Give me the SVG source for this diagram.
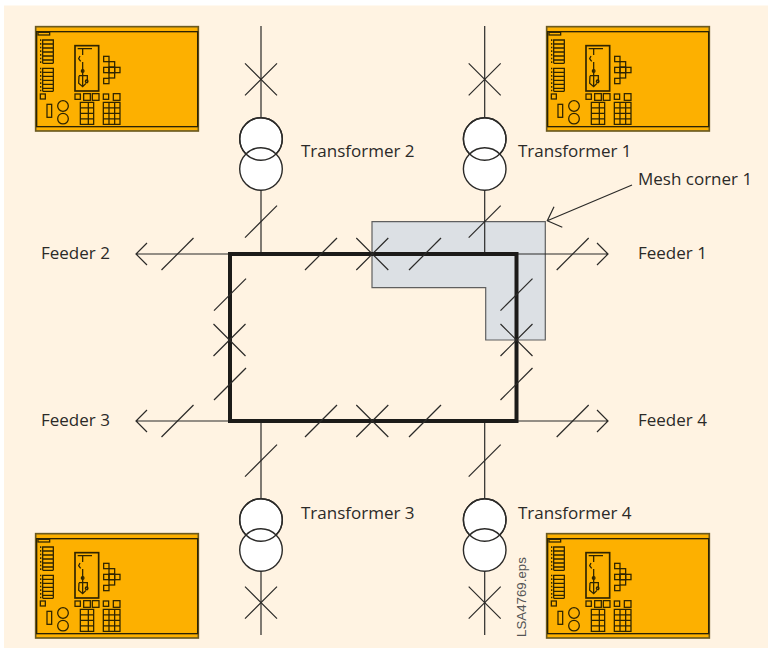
<svg xmlns="http://www.w3.org/2000/svg" xmlns:xlink="http://www.w3.org/1999/xlink" width="768" height="648" viewBox="0 0 768 648">
<style>
.l{fill:none;stroke:#2b2a28;stroke-width:1.2}
.t{font-family:"Open Sans","Noto Sans",sans-serif;font-size:17px;fill:#2b2a28}
.c1{fill:#fff;stroke:#2b2a28;stroke-width:1.4}
.c2{fill:none;stroke:#2b2a28;stroke-width:1.4}
.p{fill:none;stroke:#2e2400;stroke-width:3.800}
</style>
<defs>
<g id="sl"><path class="l" d="M-16 16L16-16"/></g>
<g id="x"><path class="l" d="M-16 16L16-16M-16-16L16 16"/></g>
<g id="panel" transform="translate(30 20) scale(.3333)">
<rect x="17" y="20" width="488" height="313" fill="#fdb000" stroke="#6b5a20" stroke-width="5"/>
<rect x="20" y="35" width="483" height="285" fill="#fdb000" stroke="#2a2205" stroke-width="4"/>
<rect class="p" x="24" y="37" width="35" height="8"/>
<path class="p" d="M38 60H70M38 72H70M38 84H70M38 96H70M38 108H70M38 120H70M38 130H70M70 58V130M38 58V130M38 145H70M38 157H70M38 169H70M38 181H70M38 193H70M38 205H70M38 214H70M70 143V214M38 143V214"/>
<path class="p" stroke-dasharray="5 6" d="M32 58V130M32 143V214"/>
<rect x="135" y="77" width="71" height="136" fill="none" stroke="#2e2400" stroke-width="5"/>
<path class="p" d="M143 86H186M158 86V105M150 108L146 116L152 124M158 126V150M158 150V165M147 167H172V190M147 167L146 190L158 200L168 190M158 165V198"/>
<circle class="p" cx="158" cy="153" r="4"/>
<circle class="p" cx="170" cy="184" r="4"/>
<rect class="p" x="221" y="109" width="16" height="16"/><rect class="p" x="237" y="125" width="17" height="16"/><rect class="p" x="221" y="142" width="16" height="16"/><rect class="p" x="237" y="142" width="17" height="16"/><rect class="p" x="254" y="142" width="16" height="16"/><rect class="p" x="237" y="158" width="17" height="16"/><rect class="p" x="221" y="175" width="16" height="16"/>
<rect class="p" x="31" y="222" width="15" height="15"/><rect class="p" x="135" y="222" width="16" height="16"/><rect class="p" x="161" y="221" width="20" height="20"/><rect class="p" x="187" y="221" width="20" height="20"/><rect class="p" x="220" y="222" width="16" height="16"/><rect class="p" x="250" y="221" width="20" height="20"/>
<rect class="p" x="51" y="253" width="14" height="39"/>
<circle class="p" cx="99" cy="258" r="16"/><circle class="p" cx="99" cy="296" r="16"/>
<path class="p" d="M151 247H191V313H151ZM151 264H191M151 280H191M151 297H191M175 247V313M220 247H270V313H220ZM220 264H270M220 280H270M220 297H270M237 247V313M254 247V313"/>
</g>
</defs>
<rect x="0" y="0" width="768" height="648" fill="#fff"/>
<rect id="background" x="4" y="5.500" width="764" height="642.500" fill="#fff3e2"/>
<path id="mesh-corner-area" d="M372 221.700H545.300V340H485.700V287.700H372Z" fill="#dce0e4" stroke="#5f5f5f" stroke-width="1.200"/>
<g id="connectors">
<path class="l" d="M261 26V118M261 190V254M484.700 26V118M484.700 190V254M261 421V499M261 571V635M484.700 421V499M484.700 571V635"/>
<path class="l" d="M136 254H230M147 243L136 254L147 265M516 254H608M597 243L608 254L597 265M136 421H230M147 410L136 421L147 432M516 421H608M597 410L608 421L597 432"/>
<path class="l" d="M632 185L547.300 220.700M554 206.700L547.300 220.700L562.300 227.300"/>
<rect x="230" y="254" width="286.500" height="167" fill="none" stroke="#1c1b19" stroke-width="4"/>
<use xlink:href="#x" href="#x" x="261" y="79.300"/><use xlink:href="#x" href="#x" x="484.700" y="79.300"/>
<use xlink:href="#x" href="#x" x="261" y="602.700"/><use xlink:href="#x" href="#x" x="484.700" y="602.700"/>
<use xlink:href="#x" href="#x" x="372.300" y="254"/><use xlink:href="#x" href="#x" x="372.300" y="421"/>
<use xlink:href="#x" href="#x" x="229.500" y="340"/><use xlink:href="#x" href="#x" x="516.500" y="340"/>
<use xlink:href="#sl" href="#sl" x="261" y="221.700"/><use xlink:href="#sl" href="#sl" x="484.700" y="221.700"/>
<use xlink:href="#sl" href="#sl" x="261" y="460.700"/><use xlink:href="#sl" href="#sl" x="484.700" y="460.700"/>
<use xlink:href="#sl" href="#sl" x="321" y="254"/><use xlink:href="#sl" href="#sl" x="425" y="254"/>
<use xlink:href="#sl" href="#sl" x="321" y="421"/><use xlink:href="#sl" href="#sl" x="425" y="421"/>
<use xlink:href="#sl" href="#sl" x="230" y="294.700"/><use xlink:href="#sl" href="#sl" x="230" y="384"/>
<use xlink:href="#sl" href="#sl" x="516.500" y="294.700"/><use xlink:href="#sl" href="#sl" x="516.500" y="384"/>
<use xlink:href="#sl" href="#sl" x="177.500" y="254"/><use xlink:href="#sl" href="#sl" x="177.500" y="421"/>
<use xlink:href="#sl" href="#sl" x="572.700" y="254"/><use xlink:href="#sl" href="#sl" x="572.700" y="421"/>
</g>
<g id="panel-1"><use xlink:href="#panel" href="#panel" x="0" y="0"/></g>
<g id="panel-2"><use xlink:href="#panel" href="#panel" x="511" y="0"/></g>
<g id="panel-3"><use xlink:href="#panel" href="#panel" x="0" y="507"/></g>
<g id="panel-4"><use xlink:href="#panel" href="#panel" x="511" y="507"/></g>
<g id="transformer-2"><circle class="c1" cx="261" cy="139" r="21.300"/><circle class="c1" cx="261" cy="169" r="21.300"/><circle class="c2" cx="261" cy="139" r="21.300"/><text class="t" x="301" y="156.500">Transformer 2</text></g>
<g id="transformer-1"><circle class="c1" cx="484.700" cy="139" r="21.300"/><circle class="c1" cx="484.700" cy="169" r="21.300"/><circle class="c2" cx="484.700" cy="139" r="21.300"/><text class="t" x="518" y="156.500">Transformer 1</text></g>
<g id="transformer-3"><circle class="c1" cx="261" cy="520" r="21.300"/><circle class="c1" cx="261" cy="550" r="21.300"/><circle class="c2" cx="261" cy="520" r="21.300"/><text class="t" x="301" y="518.500">Transformer 3</text></g>
<g id="transformer-4"><circle class="c1" cx="484.700" cy="520" r="21.300"/><circle class="c1" cx="484.700" cy="550" r="21.300"/><circle class="c2" cx="484.700" cy="520" r="21.300"/><text class="t" x="518" y="518.500">Transformer 4</text></g>
<g id="feeder-2"><text class="t" x="41" y="258.500">Feeder 2</text></g>
<g id="feeder-1"><text class="t" x="638" y="258.500">Feeder 1</text></g>
<g id="feeder-3"><text class="t" x="41" y="426">Feeder 3</text></g>
<g id="feeder-4"><text class="t" x="638" y="426">Feeder 4</text></g>
<g id="mesh-corner-1"><text class="t" x="638" y="185">Mesh corner 1</text></g>
<text transform="translate(525.600 637) rotate(-90)" font-family="Liberation Sans,sans-serif" font-size="13.300" fill="#555">LSA4769.eps</text>
</svg>
